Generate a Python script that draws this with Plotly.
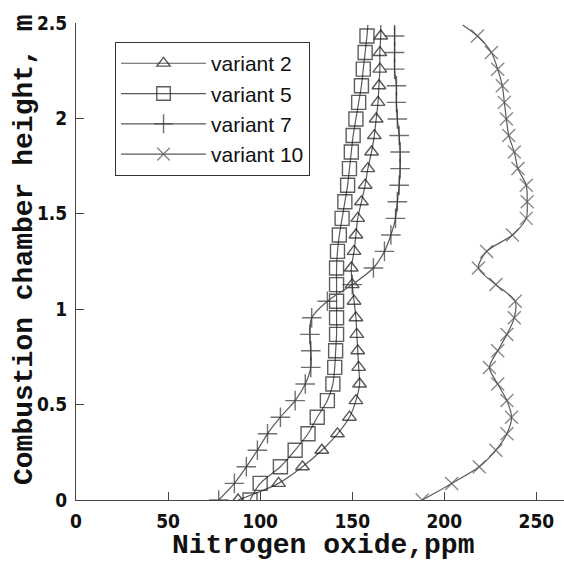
import plotly.graph_objects as go

# Heights (m) at which the markers sit; last value is the end of each curve
height = [0.0, 0.087, 0.174, 0.261, 0.347, 0.434, 0.521, 0.608, 0.695, 0.782,
          0.868, 0.955, 1.042, 1.129, 1.216, 1.303, 1.389, 1.476, 1.563, 1.650,
          1.737, 1.824, 1.910, 1.997, 2.084, 2.171, 2.258, 2.345, 2.432, 2.49]

variant2 = [88, 110, 123, 133.5, 142, 148.5, 152, 154, 153.5, 153, 152.5, 152, 151, 150,
            149.5, 151, 152, 153, 155, 157, 158.5, 160.5, 162, 163, 164, 164.5, 165, 165,
            165.5, 165.5]
variant5 = [94.5, 100, 111, 119, 126, 131, 136.5, 139.5, 140.5, 141, 141.5, 141.5, 141.5,
            141.5, 141.5, 142, 143, 144.5, 146, 147.5, 148.5, 149.5, 150.5, 152, 153.5,
            155, 156, 157, 158, 158.5]
variant7 = [77.5, 86, 92.5, 98.5, 104, 111, 119, 124.5, 127.5, 127.5, 127, 128, 136.5, 150,
            161.5, 167.5, 171, 173.5, 174.5, 175.5, 176, 176, 175.5, 174.5, 174, 174, 173,
            173, 173, 173]
variant10 = [188, 204, 219, 228, 234, 236.5, 234, 229, 224.5, 229, 234, 238, 238.5, 228,
             218.5, 223, 237, 244.5, 245, 244.5, 240, 238, 235, 233.7, 232.6, 231.5, 229,
             225.6, 218, 210]

names = ["variant 2", "variant 5", "variant 7", "variant 10"]
x_ticks = [0, 50, 100, 150, 200, 250]
y_ticks = [0, 0.5, 1, 1.5, 2, 2.5]
y_tick_text = ["0", "0.5", "1", "1.5", "2", "2.5"]
x_title = "Nitrogen oxide,ppm"
y_title = "Combustion chamber height, m"

series = [variant2, variant5, variant7, variant10]
symbols = ["triangle-up-open", "square-open", "cross-thin-open", "x-thin-open"]
msizes = [12, 14, 14, 13]
mcolors = ["#111111", "#1a1a1a", "#333333", "#555555"]

fig = go.Figure()
n = len(height)
for vals, name, sym, ms, mc in zip(series, names, symbols, msizes, mcolors):
    sizes = [ms] * (n - 1) + [0]
    fig.add_trace(go.Scatter(
        x=vals, y=height, name=name, mode="lines+markers",
        line=dict(color="#5a5a5a", width=1.2, shape="spline", smoothing=0.8),
        marker=dict(symbol=sym, size=sizes, color=mc, line=dict(color=mc, width=1.4)),
    ))

titlefont = dict(family="Liberation Mono, Courier New, monospace", size=28,
                 color="#111", weight="bold")
fig.update_layout(
    width=564, height=563,
    margin=dict(l=76, r=0, t=23, b=63, autoexpand=False),
    paper_bgcolor="white", plot_bgcolor="white",
    showlegend=True,
    legend=dict(x=0.08, y=0.96, xanchor="left", yanchor="top",
                bgcolor="white", bordercolor="#333333", borderwidth=1,
                font=dict(family="Liberation Sans, Arial, sans-serif", size=21, color="#111"),
                itemwidth=85, tracegroupgap=0),
    annotations=[
        dict(text=x_title, xref="paper", yref="paper", x=0.506, y=-0.0964,
             xanchor="center", yanchor="middle", showarrow=False, font=titlefont),
        dict(text=y_title, xref="paper", yref="paper", x=-0.1066, y=0.524,
             xanchor="center", yanchor="middle", showarrow=False, textangle=-90,
             font=titlefont),
    ],
)
tickfont = dict(family="DejaVu Sans Condensed, Liberation Sans Narrow, Arial Narrow, sans-serif",
                size=19, color="#111", weight="bold")
fig.update_xaxes(
    range=[0, 265], tickvals=x_ticks, ticks="inside", ticklen=8, tickcolor="#444",
    showline=True, linecolor="#444", linewidth=1, showgrid=False, zeroline=False,
    tickfont=tickfont, automargin=False, ticklabelstandoff=4,
)
fig.update_yaxes(
    range=[0, 2.5], tickvals=y_ticks, ticktext=y_tick_text, ticks="inside", ticklen=8,
    tickcolor="#444", showline=True, linecolor="#444", linewidth=1, showgrid=False,
    zeroline=False, tickfont=tickfont, automargin=False, ticklabelstandoff=4,
)

fig.write_html("out.html", config={"displayModeBar": False},
               post_script="document.body.style.margin='0';")
